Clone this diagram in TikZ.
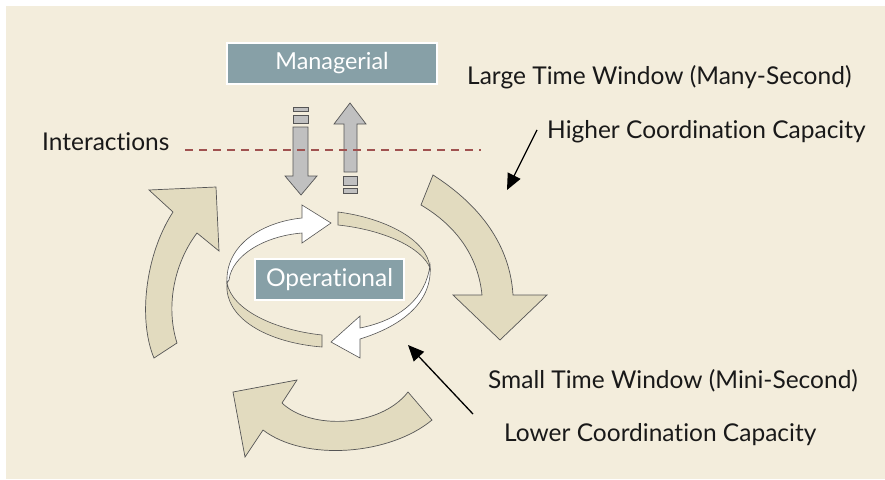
\documentclass[tikz,border=0pt]{standalone}
\usepackage{fontspec}
\setmainfont{Lato}[Ligatures=NoCommon]
\usetikzlibrary{arrows.meta}
\definecolor{bgbeige}{RGB}{243,237,220}
\definecolor{arrbeige}{RGB}{226,219,191}
\definecolor{boxteal}{RGB}{135,160,167}
\definecolor{grayfill}{RGB}{192,192,192}
\definecolor{grayline}{RGB}{85,85,85}
\definecolor{dashred}{RGB}{160,82,80}
\definecolor{txt}{RGB}{25,25,25}
\tikzset{
  bigarrow/.style={fill=arrbeige, draw=grayline, line width=0.7pt, line join=miter},
  ribbonw/.style={fill=white, draw=grayline, line width=0.6pt},
  ribbonb/.style={fill=arrbeige, draw=grayline, line width=0.6pt},
  grayarrow/.style={fill=grayfill, draw=grayline, line width=0.7pt},
  tealbox/.style={fill=boxteal, draw=white, line width=1.2pt, text=white, inner sep=0pt},
  label/.style={text=txt, anchor=west, inner sep=0pt, font=\fontsize{24.5}{29}\selectfont},
  pointer/.style={draw=black, line width=1.3pt, -{Triangle[length=16pt,width=14pt]}}
}
\begin{document}
\begin{tikzpicture}[x=1pt,y=-1pt]
\useasboundingbox (0,0) rectangle (885,479);
\fill[white] (0,0) rectangle (885,479);
\fill[bgbeige] (6,6) rectangle (885,479);

% outer cycle arrows
\path[bigarrow] (154,358) .. controls (138,320) and (145,255) .. (173,212)
  -- (149,190) -- (216,187) -- (219,251) -- (197,233)
  .. controls (175,262) and (165,305) .. (177,343) -- cycle;
\path[bigarrow] (433,175) .. controls (480,205) and (510,245) .. (513,295)
  -- (547,295) -- (500,340) -- (453,295) -- (482,295)
  .. controls (478,255) and (455,225) .. (421,205) -- cycle;
\path[bigarrow] (432,420) .. controls (390,455) and (305,462) .. (263,430)
  -- (245,457) -- (233,392) -- (297,380) -- (282,403)
  .. controls (310,430) and (380,428) .. (408,392) -- cycle;

% operational ribbon
\path[ribbonb] (338,212) .. controls (385,218) and (428,240) .. (430,268)
  .. controls (422,248) and (385,230) .. (338,225) -- cycle;
\path[ribbonb] (227,283) .. controls (232,310) and (275,330) .. (322,335)
  -- (322,347) .. controls (272,343) and (230,322) .. (227,290) -- cycle;
\path[ribbonw] (227,283) .. controls (225,245) and (262,222) .. (302,218)
  -- (302,205) -- (331,223) -- (302,243) -- (302,233)
  .. controls (265,236) and (232,255) .. (229,280) -- cycle;
\path[ribbonw] (430,265) .. controls (433,300) and (405,325) .. (360,339)
  -- (360,358) -- (331,342) -- (360,316) -- (360,328)
  .. controls (400,320) and (426,298) .. (430,265) -- cycle;

% boxes
\node[tealbox, minimum width=210pt, minimum height=41pt, font=\fontsize{23.4}{28}\selectfont] (man) at (332,63.5) {Managerial};
\node[tealbox, minimum width=149pt, minimum height=41pt, font=\fontsize{24.5}{29}\selectfont] (op) at (329.5,279.5) {Operational};

% gray arrows
\path[grayarrow] (293,107) rectangle (308,111);
\path[grayarrow] (293,115) rectangle (308,123);
\path[grayarrow] (293,127) -- (308,127) -- (308,176) -- (317,176) -- (301,195)
  -- (285,176) -- (293,176) -- cycle;
\path[grayarrow] (344,172) -- (357,172) -- (357,124) -- (366,124) -- (350,103)
  -- (334,124) -- (344,124) -- cycle;
\path[grayarrow] (343,176) rectangle (357,185);
\path[grayarrow] (343,188) rectangle (357,193);

% interactions line
\coordinate (dl) at (185,150);
\coordinate (dr) at (481,150);
\draw[dashred, line width=1.3pt, dash pattern=on 8pt off 6pt] (dl) -- (dr);

% labels
\node[label] (inter) at (42,142) {Interactions};
\node[label] (large) at (467,77) {Large Time Window (Many-Second)};
\node[label] (higher) at (547,132) {Higher Coordination Capacity};
\node[label] (small) at (488,381) {Small Time Window (Mini-Second)};
\node[label] (lower) at (504,435) {Lower Coordination Capacity};

% pointers
\coordinate (p1s) at (537,130);
\coordinate (p1e) at (507,190);
\coordinate (p2s) at (473,414);
\coordinate (p2e) at (408,345);
\draw[pointer] (p1s) -- (p1e);
\draw[pointer] (p2s) -- (p2e);
\end{tikzpicture}
\end{document}
